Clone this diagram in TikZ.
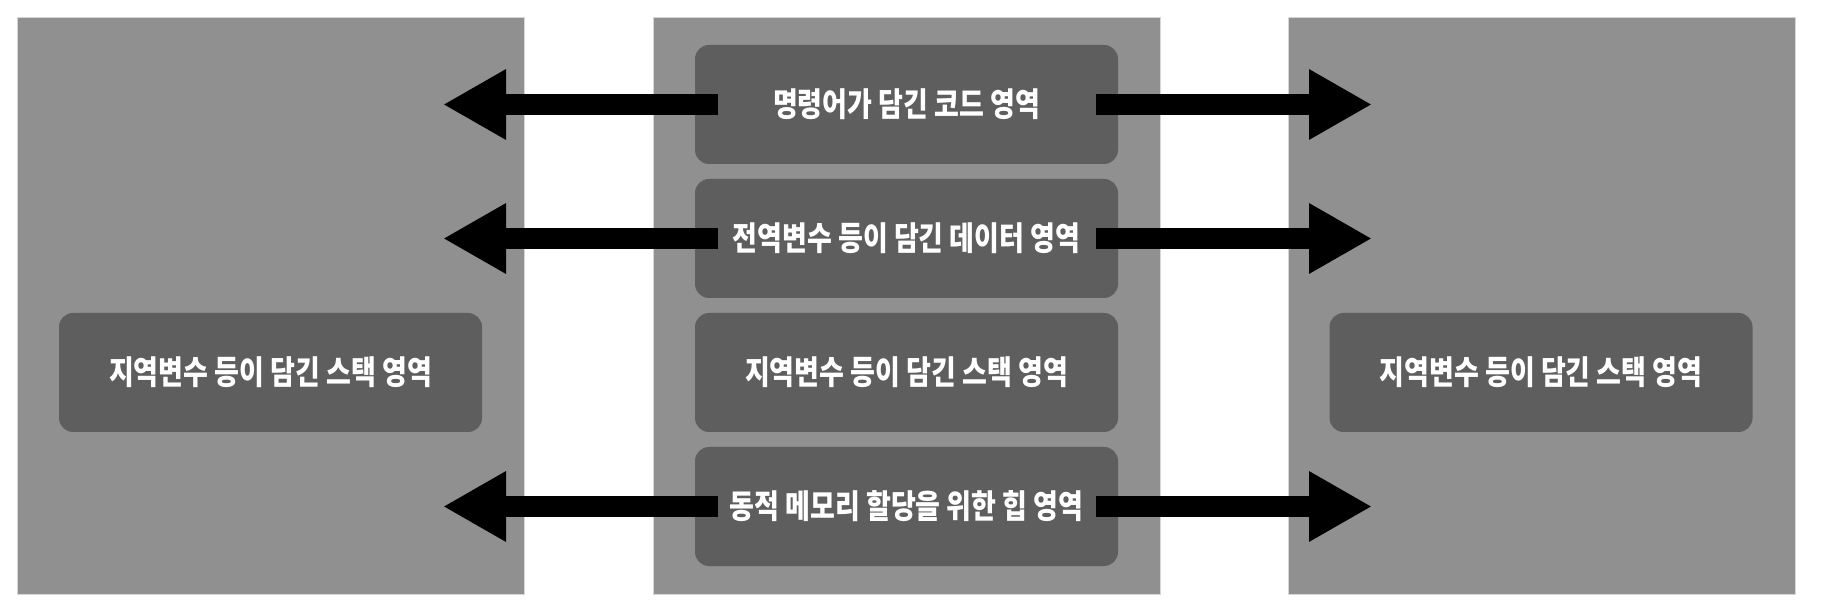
\documentclass[tikz,border=0pt]{standalone}
\usepackage{fontspec}
\setmainfont{Noto Sans CJK KR}
\usetikzlibrary{arrows.meta}
\definecolor{panelgray}{HTML}{909090}
\definecolor{boxgray}{HTML}{5E5E5E}
\definecolor{edgegray}{HTML}{D6D6D6}
\tikzset{
  panel/.style={draw=edgegray, line width=0.6pt, fill=panelgray, minimum width=253.5pt, minimum height=288.5pt, anchor=north west, inner sep=0pt},
  membox/.style={fill=boxgray, rounded corners=7pt, minimum width=211.5pt, minimum height=59.5pt, inner sep=0pt},
  lbl/.style={text=white, font=\bfseries\fontsize{13.5pt}{16pt}\selectfont, inner sep=0pt},
  bigarrow/.style={line width=10.5pt, -{Triangle[length=31.5pt,width=33pt]}}
}
\newcommand{\tall}[1]{\scalebox{1}[1.22]{#1}}
\begin{document}
\begin{tikzpicture}[x=0.5pt,y=-0.5pt]
\useasboundingbox[fill=white] (0,0) rectangle (1840,608);
% panels
\node[panel] (pl) at (17,17) {};
\node[panel] (pm) at (653,17) {};
\node[panel] (pr) at (1288,17) {};
% boxes
\node[membox] (m1) at (906.5,104.5) {};
\node[membox] (m2) at (906.5,238.5) {};
\node[membox] (m3) at (906.5,372.5) {};
\node[membox] (m4) at (906.5,506.5) {};
\node[membox] (sl) at (270.5,372.5) {};
\node[membox] (sr) at (1541,372.5) {};
% arrow end points
\coordinate (l1) at (443,104.5);
\coordinate (l2) at (443,238.5);
\coordinate (l4) at (443,506.5);
\coordinate (r1) at (1372,104.5);
\coordinate (r2) at (1372,238.5);
\coordinate (r4) at (1372,506.5);
% arrows
\draw[bigarrow] ([xshift=11.5pt]m1.west) -- (l1);
\draw[bigarrow] ([xshift=11.5pt]m2.west) -- (l2);
\draw[bigarrow] ([xshift=11.5pt]m4.west) -- (l4);
\draw[bigarrow] ([xshift=-11pt]m1.east) -- (r1);
\draw[bigarrow] ([xshift=-11pt]m2.east) -- (r2);
\draw[bigarrow] ([xshift=-11pt]m4.east) -- (r4);
% labels
\node[lbl] (t1) at (m1) {\tall{명령어가 담긴 코드 영역}};
\node[lbl] (t2) at (m2) {\tall{전역변수 등이 담긴 데이터 영역}};
\node[lbl] (t3) at (m3) {\tall{지역변수 등이 담긴 스택 영역}};
\node[lbl] (t4) at (m4) {\tall{동적 메모리 할당을 위한 힙 영역}};
\node[lbl] (tl) at (sl) {\tall{지역변수 등이 담긴 스택 영역}};
\node[lbl] (tr) at (sr) {\tall{지역변수 등이 담긴 스택 영역}};
\end{tikzpicture}
\end{document}
